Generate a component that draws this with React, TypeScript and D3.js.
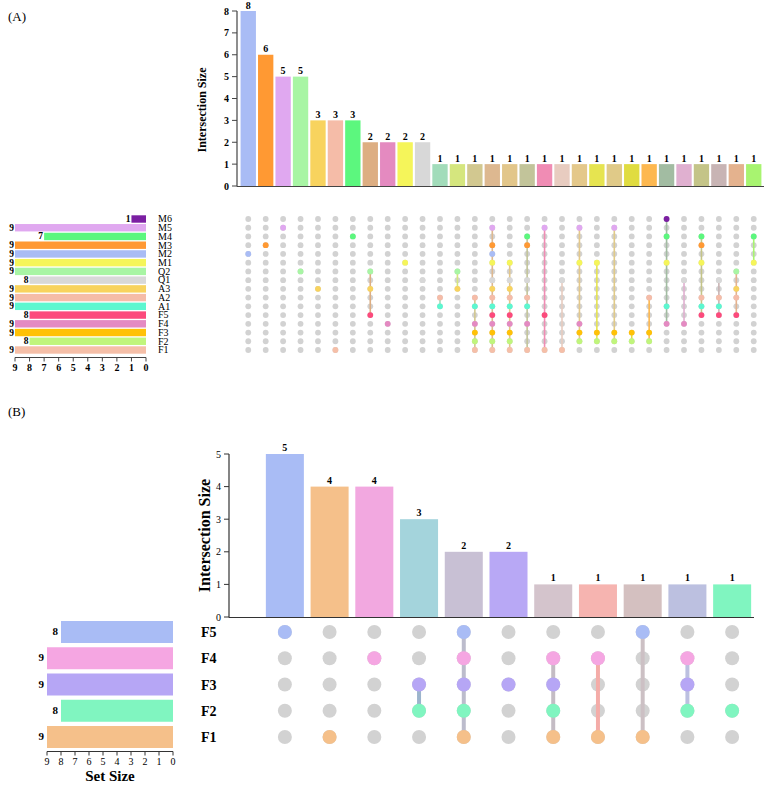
import * as d3 from "d3";

// ---------- Panel A data ----------
const setsA = ["M6", "M5", "M4", "M3", "M2", "M1", "Q2", "Q1", "A3", "A2", "A1", "F5", "F4", "F3", "F2", "F1"];
const setSizesA = [1, 9, 7, 9, 9, 9, 9, 8, 9, 9, 9, 8, 9, 9, 8, 9];
const setColorsA = [
  "#7b1fa2", "#e0a8f0", "#5cf77e", "#ff9933", "#a9bcf5", "#f5f55a", "#a8f5a4", "#d8d8d8",
  "#f8d35e", "#f5bca8", "#5cf7d0", "#fc4a7c", "#e48ac2", "#ffc107", "#c0f57c", "#f5bfa8",
];
const interCountsA = [8, 6, 5, 5, 3, 3, 3, 2, 2, 2, 2, 1, 1, 1, 1, 1, 1, 1, 1, 1, 1, 1, 1, 1, 1, 1, 1, 1, 1, 1];
const interSetsA = [
  ["M2"], ["M3"], ["M5"], ["Q2"], ["A3"], ["F1"], ["M4"],
  ["Q2", "A3", "F5"], ["F4"], ["M1"], ["Q1"],
  ["A2", "A1"],
  ["Q2", "A3"],
  ["A2", "A1", "F4", "F3", "F2", "F1"],
  ["M5", "M3", "M2", "M1", "Q1", "A3", "A2", "A1", "F5", "F4", "F3", "F2", "F1"],
  ["M1", "Q1", "A3", "A2", "A1", "F5", "F4", "F3", "F2", "F1"],
  ["M4", "M3", "Q1", "A2", "A1", "F4", "F1"],
  ["M5", "F5", "F1"],
  ["Q1", "F1"],
  ["M5", "M1", "F4", "F3", "F2"],
  ["M1", "F3", "F2"],
  ["M5", "F3", "F2"],
  ["F3", "F2"],
  ["A2", "F3", "F2"],
  ["M6", "M4", "M1", "A1", "F4"],
  ["Q1", "F4"],
  ["M4", "M3", "M1", "A2", "A1", "F5"],
  ["Q1", "A2", "A1", "F5"],
  ["Q2", "A3", "A2", "F5"],
  ["M4", "M1"],
];
const interColorsA = [
  "#a9bcf5", "#ff9933", "#e0a8f0", "#a8f5a4", "#f8d35e", "#f5bca8", "#5cf77e",
  "#ddae82", "#e48ac0", "#f5f55a", "#d8d8d8", "#a2dcba", "#d5e67e", "#d2c890",
  "#ddb890", "#e2c68a", "#c2c49a", "#f08cb4", "#e8ccc0", "#e4c88a", "#e6e450",
  "#e0ca88", "#e0dc40", "#fdb850", "#a2bca2", "#e0b0d0", "#c4c488", "#c8b4b4",
  "#e4b28e", "#a8f470",
];
const yTicksA = [0, 1, 2, 3, 4, 5, 6, 7, 8];
const setTicksA = [9, 8, 7, 6, 5, 4, 3, 2, 1, 0];

// ---------- Panel B data ----------
const setsB = ["F5", "F4", "F3", "F2", "F1"];
const setSizesB = [8, 9, 9, 8, 9];
const setColorsB = ["#a9bcf5", "#f5a6e2", "#b6a6f5", "#80f5c0", "#f5c08a"];
const interCountsB = [5, 4, 4, 3, 2, 2, 1, 1, 1, 1, 1];
const interSetsB = [
  ["F5"], ["F1"], ["F4"], ["F3", "F2"], ["F5", "F4", "F3", "F2", "F1"], ["F3"],
  ["F4", "F3", "F2", "F1"], ["F4", "F1"], ["F5", "F1"], ["F4", "F3", "F2"], ["F2"],
];
const interColorsB = [
  "#a9bcf5", "#f5c08a", "#f2a8e0", "#a4d4dc", "#c8c0d4", "#b8a8f5",
  "#d4c4cc", "#f6b4b0", "#d4c0c0", "#bcc0e0", "#80f5c0",
];
const lineColorsB = [
  "#a9bcf5", "#f5c08a", "#f2a8e0", "#9cb4cc", "#bcbccc", "#b8a8f5",
  "#c4bcc4", "#f4aca8", "#ccc0c4", "#bcc0e0", "#80f5c0",
];
const yTicksB = [0, 1, 2, 3, 4, 5];
const setTicksB = [9, 8, 7, 6, 5, 4, 3, 2, 1, 0];

const FONT = "'Liberation Serif', 'Times New Roman', serif";
const GRAY = "#d2d2d2";

function PanelA() {
  const x = d3.scaleBand<number>().domain(d3.range(interCountsA.length)).range([238.5, 763.5]).padding(0.12);
  const y = d3.scaleLinear().domain([0, 8]).range([186, 11]);
  const row = d3.scalePoint<string>().domain(setsA).range([219, 350]);
  const sx = d3.scaleLinear().domain([0, 9]).range([146, 15]);
  const bh = 7.4;
  const cx = (i: number) => (x(i) as number) + x.bandwidth() / 2;
  return (
    <g fontFamily={FONT}>
      <text x={8} y={21} fontSize={13}>(A)</text>
      {/* intersection bars */}
      {interCountsA.map((v, i) => (
        <g key={i}>
          <rect x={x(i)} y={y(v)} width={x.bandwidth()} height={y(0) - y(v)} fill={interColorsA[i]} />
          <text x={cx(i)} y={y(v) - 2.5} fontSize={10} fontWeight="bold" textAnchor="middle">{v}</text>
        </g>
      ))}
      <line x1={237} x2={764} y1={186.5} y2={186.5} stroke="#444" strokeWidth={1.2} />
      <line x1={237} x2={237} y1={y(8)} y2={186.5} stroke="#444" strokeWidth={1.2} />
      {yTicksA.map((t) => (
        <g key={t}>
          <line x1={232} x2={237} y1={y(t)} y2={y(t)} stroke="#444" />
          <text x={229} y={y(t) + 3.5} fontSize={10} fontWeight="bold" textAnchor="end">{t}</text>
        </g>
      ))}
      <text transform={`translate(206,110) rotate(-90)`} fontSize={12} fontWeight="bold" textAnchor="middle">Intersection Size</text>
      {/* matrix */}
      {interSetsA.map((s, i) => {
        const ys = s.map((k) => row(k) as number);
        return (
          <g key={i}>
            {setsA.map((k) => (
              <circle key={k} cx={cx(i)} cy={row(k)} r={2.9} fill={GRAY} />
            ))}
            {s.length > 1 && (
              <line x1={cx(i)} x2={cx(i)} y1={d3.min(ys)} y2={d3.max(ys)} stroke={interColorsA[i]} strokeWidth={1.6} />
            )}
            {s.map((k) => (
              <circle key={k} cx={cx(i)} cy={row(k)} r={2.9} fill={setColorsA[setsA.indexOf(k)]} />
            ))}
          </g>
        );
      })}
      {/* set size bars */}
      {setsA.map((k, i) => (
        <g key={k}>
          <rect x={sx(setSizesA[i])} y={(row(k) as number) - bh / 2} width={sx(0) - sx(setSizesA[i])} height={bh} fill={setColorsA[i]} />
          <text x={sx(setSizesA[i]) - 1} y={(row(k) as number) + 3} fontSize={9.5} fontWeight="bold" textAnchor="end">{setSizesA[i]}</text>
          <text x={158} y={(row(k) as number) + 3.3} fontSize={10}>{k}</text>
        </g>
      ))}
      <line x1={sx(9)} x2={sx(0)} y1={357.5} y2={357.5} stroke="#444" strokeWidth={1.2} />
      {setTicksA.map((t) => (
        <g key={t}>
          <line x1={sx(t)} x2={sx(t)} y1={357.5} y2={361.5} stroke="#444" />
          <text x={sx(t)} y={371} fontSize={10} fontWeight="bold" textAnchor="middle">{t}</text>
        </g>
      ))}
    </g>
  );
}

function PanelB() {
  const x = d3.scaleBand<number>().domain(d3.range(interCountsB.length)).range([262.5, 754.5]).paddingInner(0.15).paddingOuter(0.075);
  const y = d3.scaleLinear().domain([0, 5]).range([617, 454]);
  const row = d3.scalePoint<string>().domain(setsB).range([632, 737]);
  const sx = d3.scaleLinear().domain([0, 9]).range([173, 47]);
  const bh = 22;
  const cx = (i: number) => (x(i) as number) + x.bandwidth() / 2;
  return (
    <g fontFamily={FONT}>
      <text x={8} y={416} fontSize={13}>(B)</text>
      {interCountsB.map((v, i) => (
        <g key={i}>
          <rect x={x(i)} y={y(v)} width={x.bandwidth()} height={y(0) - y(v)} fill={interColorsB[i]} />
          <text x={cx(i)} y={y(v) - 3} fontSize={10} fontWeight="bold" textAnchor="middle">{v}</text>
        </g>
      ))}
      <line x1={229} x2={754} y1={617.5} y2={617.5} stroke="#333" strokeWidth={1.2} />
      <line x1={229} x2={229} y1={y(5)} y2={617.5} stroke="#333" strokeWidth={1.2} />
      {yTicksB.map((t) => (
        <g key={t}>
          <line x1={224} x2={229} y1={y(t)} y2={y(t)} stroke="#333" />
          <text x={221} y={y(t) + 3.5} fontSize={10} textAnchor="end">{t}</text>
        </g>
      ))}
      <text transform={`translate(210,${y(2.5)}) rotate(-90)`} fontSize={16} fontWeight="bold" textAnchor="middle">Intersection Size</text>
      {interSetsB.map((s, i) => {
        const ys = s.map((k) => row(k) as number);
        return (
          <g key={i}>
            {setsB.map((k) => (
              <circle key={k} cx={cx(i)} cy={row(k)} r={7} fill={GRAY} />
            ))}
            {s.length > 1 && (
              <line x1={cx(i)} x2={cx(i)} y1={d3.min(ys)} y2={d3.max(ys)} stroke={lineColorsB[i]} strokeWidth={4} />
            )}
            {s.map((k) => (
              <circle key={k} cx={cx(i)} cy={row(k)} r={7} fill={setColorsB[setsB.indexOf(k)]} />
            ))}
          </g>
        );
      })}
      {setsB.map((k, i) => (
        <g key={k}>
          <rect x={sx(setSizesB[i])} y={(row(k) as number) - bh / 2} width={sx(0) - sx(setSizesB[i])} height={bh} fill={setColorsB[i]} />
          <text x={sx(setSizesB[i]) - 3} y={(row(k) as number) + 3} fontSize={11} fontWeight="bold" textAnchor="end">{setSizesB[i]}</text>
          <text x={201} y={(row(k) as number) + 5} fontSize={14} fontWeight="bold">{k}</text>
        </g>
      ))}
      <line x1={sx(9)} x2={sx(0)} y1={751.5} y2={751.5} stroke="#333" strokeWidth={1.2} />
      {setTicksB.map((t) => (
        <g key={t}>
          <line x1={sx(t)} x2={sx(t)} y1={751.5} y2={755.5} stroke="#333" />
          <text x={sx(t)} y={765} fontSize={10} textAnchor="middle">{t}</text>
        </g>
      ))}
      <text x={(sx(9) + sx(0)) / 2} y={781} fontSize={15} fontWeight="bold" textAnchor="middle">Set Size</text>
    </g>
  );
}

export default function App() {
  return (
    <div style={{ position: "absolute", left: 0, top: 0 }}>
      <svg width={767} height={786} viewBox="0 0 767 786" style={{ display: "block", background: "#fff" }}>
        <PanelA />
        <PanelB />
      </svg>
    </div>
  );
}
